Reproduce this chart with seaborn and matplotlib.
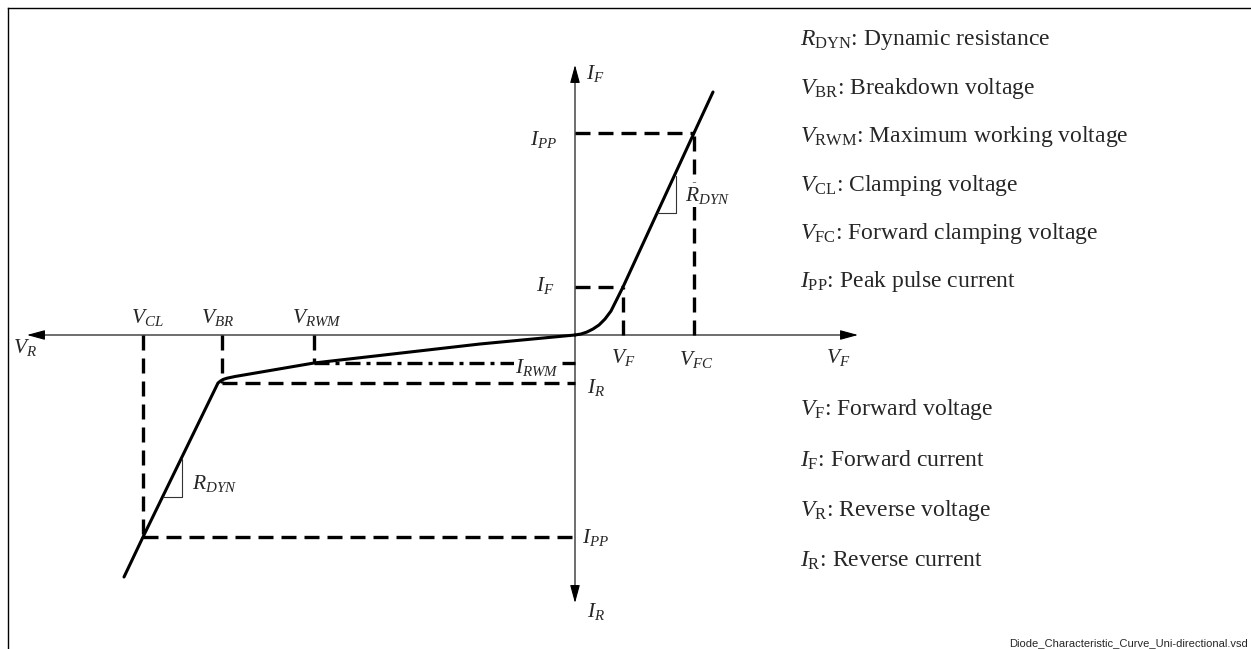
import matplotlib
matplotlib.use("Agg")
import matplotlib.pyplot as plt
import seaborn as sns
import pandas as pd

# I-V curve of a uni-directional TVS diode (schematic units)
fwd_v = [0, 0.6, 1.2, 1.8, 2.4, 3.0, 3.6, 4.8, 11.9, 13.8]
fwd_i = [0, 0.1, 0.3, 0.6, 1.0, 1.6, 2.4, 4.8, 20.2, 24.3]
rev_v = [0, -9.5, -26.1, -34.0, -34.8, -35.2, -35.45, -35.7, -43.2, -45.1]
rev_i = [0, -0.9, -2.8, -4.15, -4.32, -4.45, -4.6, -4.8, -20.2, -24.2]

# characteristic points
v_f, i_f = 4.8, 4.8
v_fc, i_pp = 11.9, 20.2
v_rwm, i_rwm = -26.1, -2.8
v_br, i_r = -35.3, -4.8
v_cl = -43.2

# slope triangles (R_DYN)
tri_up_v = [8.2, 10.1, 10.1]
tri_up_i = [12.2, 12.2, 15.9]
tri_lo_v = [-41.2, -39.3, -39.3]
tri_lo_i = [-16.2, -16.2, -12.4]

legend_top = [
    r"$R_{\mathrm{DYN}}$: Dynamic resistance",
    r"$V_{\mathrm{BR}}$: Breakdown voltage",
    r"$V_{\mathrm{RWM}}$: Maximum working voltage",
    r"$V_{\mathrm{CL}}$: Clamping voltage",
    r"$V_{\mathrm{FC}}$: Forward clamping voltage",
    r"$I_{\mathrm{PP}}$: Peak pulse current",
]
legend_bottom = [
    r"$V_{\mathrm{F}}$: Forward voltage",
    r"$I_{\mathrm{F}}$: Forward current",
    r"$V_{\mathrm{R}}$: Reverse voltage",
    r"$I_{\mathrm{R}}$: Reverse current",
]

sns.set_theme(style="white")
plt.rcParams["font.family"] = ["Liberation Serif", "DejaVu Serif"]
plt.rcParams["mathtext.fontset"] = "custom"
plt.rcParams["mathtext.rm"] = "Liberation Serif"
plt.rcParams["mathtext.it"] = "Liberation Serif:italic"
plt.rcParams["mathtext.bf"] = "Liberation Serif:bold"

fig = plt.figure(figsize=(12.51, 6.49), dpi=100)
ax = fig.add_axes([8 / 1251, 0, 1 - 8 / 1251, 1 - 8 / 649])
ax.set_xlim(-56.7, 67.6)
ax.set_ylim(-31.4, 32.7)
for s in ["right", "bottom"]:
    ax.spines[s].set_visible(False)
for s in ["top", "left"]:
    ax.spines[s].set_color("black")
    ax.spines[s].set_linewidth(1.0)
ax.set_xticks([])
ax.set_yticks([])

# axes with arrows
arr = dict(arrowstyle="<|-|>,head_length=1.1,head_width=0.3", mutation_scale=10,
           lw=0.8, color="black", shrinkA=0, shrinkB=0)
ax.annotate("", xy=(28.3, 0), xytext=(-54.8, 0), arrowprops=arr)
ax.annotate("", xy=(0, 27.0), xytext=(0, -26.8), arrowprops=arr)

# guide lines
dash = (0, (4.5, 2.4))
dkw = dict(color="black", lw=2.4, linestyle=dash, dash_capstyle="butt")
ax.plot([0, v_fc], [i_pp, i_pp], **dkw)
ax.plot([v_fc, v_fc], [0, i_pp], **dkw)
ax.plot([0, v_f], [i_f, i_f], **dkw)
ax.plot([v_f, v_f], [0, i_f], **dkw)
ax.plot([v_rwm, v_rwm], [0, i_rwm], **dkw)
ax.plot([v_br, v_br], [0, i_r], **dkw)
ax.plot([v_br, 0], [i_r, i_r], **dkw)
ax.plot([v_cl, v_cl], [0, -i_pp], **dkw)
ax.plot([v_cl, 0], [-i_pp, -i_pp], **dkw)
ax.plot([v_rwm, 0], [i_rwm, i_rwm], color="black", lw=2.4,
        linestyle=(0, (4.5, 1.8, 1.2, 1.8)), dash_capstyle="butt")

# curves
fwd = pd.DataFrame({"V": fwd_v, "I": fwd_i})
rev = pd.DataFrame({"V": rev_v, "I": rev_i})
sns.lineplot(data=fwd, x="V", y="I", sort=False, estimator=None, color="black", lw=2.2, ax=ax)
sns.lineplot(data=rev, x="V", y="I", sort=False, estimator=None, color="black", lw=2.2, ax=ax)
ax.set_xlabel("")
ax.set_ylabel("")

# slope triangles
ax.plot(tri_up_v, tri_up_i, color="#333333", lw=0.8)
ax.plot(tri_lo_v, tri_lo_i, color="#333333", lw=0.8)

# labels
fs = 15.5
white = dict(facecolor="white", edgecolor="none", pad=1)
ax.text(1.1, 26.2, r"$I_F$", fontsize=fs, ha="left", va="center")
ax.text(26.3, -2.2, r"$V_F$", fontsize=fs, ha="center", va="center")
ax.text(-55.0, -1.3, r"$V_R$", fontsize=fs, ha="center", va="center")
ax.text(1.2, -27.7, r"$I_R$", fontsize=fs, ha="left", va="center")
ax.text(-1.8, 19.5, r"$I_{PP}$", fontsize=fs, ha="right", va="center")
ax.text(-2.0, 5.0, r"$I_F$", fontsize=fs, ha="right", va="center")
ax.text(v_f, -2.2, r"$V_F$", fontsize=fs, ha="center", va="center")
ax.text(v_fc + 0.2, -2.4, r"$V_{FC}$", fontsize=fs, ha="center", va="center")
ax.text(11.0, 14.0, r"$R_{DYN}$", fontsize=fs, ha="left", va="center", bbox=white, zorder=5)
ax.text(v_cl + 0.4, 1.8, r"$V_{CL}$", fontsize=fs, ha="center", va="center")
ax.text(v_br - 0.4, 1.8, r"$V_{BR}$", fontsize=fs, ha="center", va="center")
ax.text(v_rwm + 0.3, 1.8, r"$V_{RWM}$", fontsize=fs, ha="center", va="center")
ax.text(-1.6, -3.2, r"$I_{RWM}$", fontsize=fs, ha="right", va="center", bbox=white, zorder=5)
ax.text(1.2, -5.3, r"$I_R$", fontsize=fs, ha="left", va="center")
ax.text(0.7, -20.2, r"$I_{PP}$", fontsize=fs, ha="left", va="center")
ax.text(-38.3, -14.8, r"$R_{DYN}$", fontsize=fs, ha="left", va="center")

# legend text
for k, t in enumerate(legend_top):
    ax.text(22.5, 29.5 - k * 4.84, t, fontsize=17, ha="left", va="center")
for k, t in enumerate(legend_bottom):
    ax.text(22.5, -7.5 - k * 5.03, t, fontsize=17, ha="left", va="center")

ax.text(67.3, -30.8, "Diode_Characteristic_Curve_Uni-directional.vsd",
        fontsize=8, family="Liberation Sans", ha="right", va="center")

fig.savefig("out.png", dpi=100)
